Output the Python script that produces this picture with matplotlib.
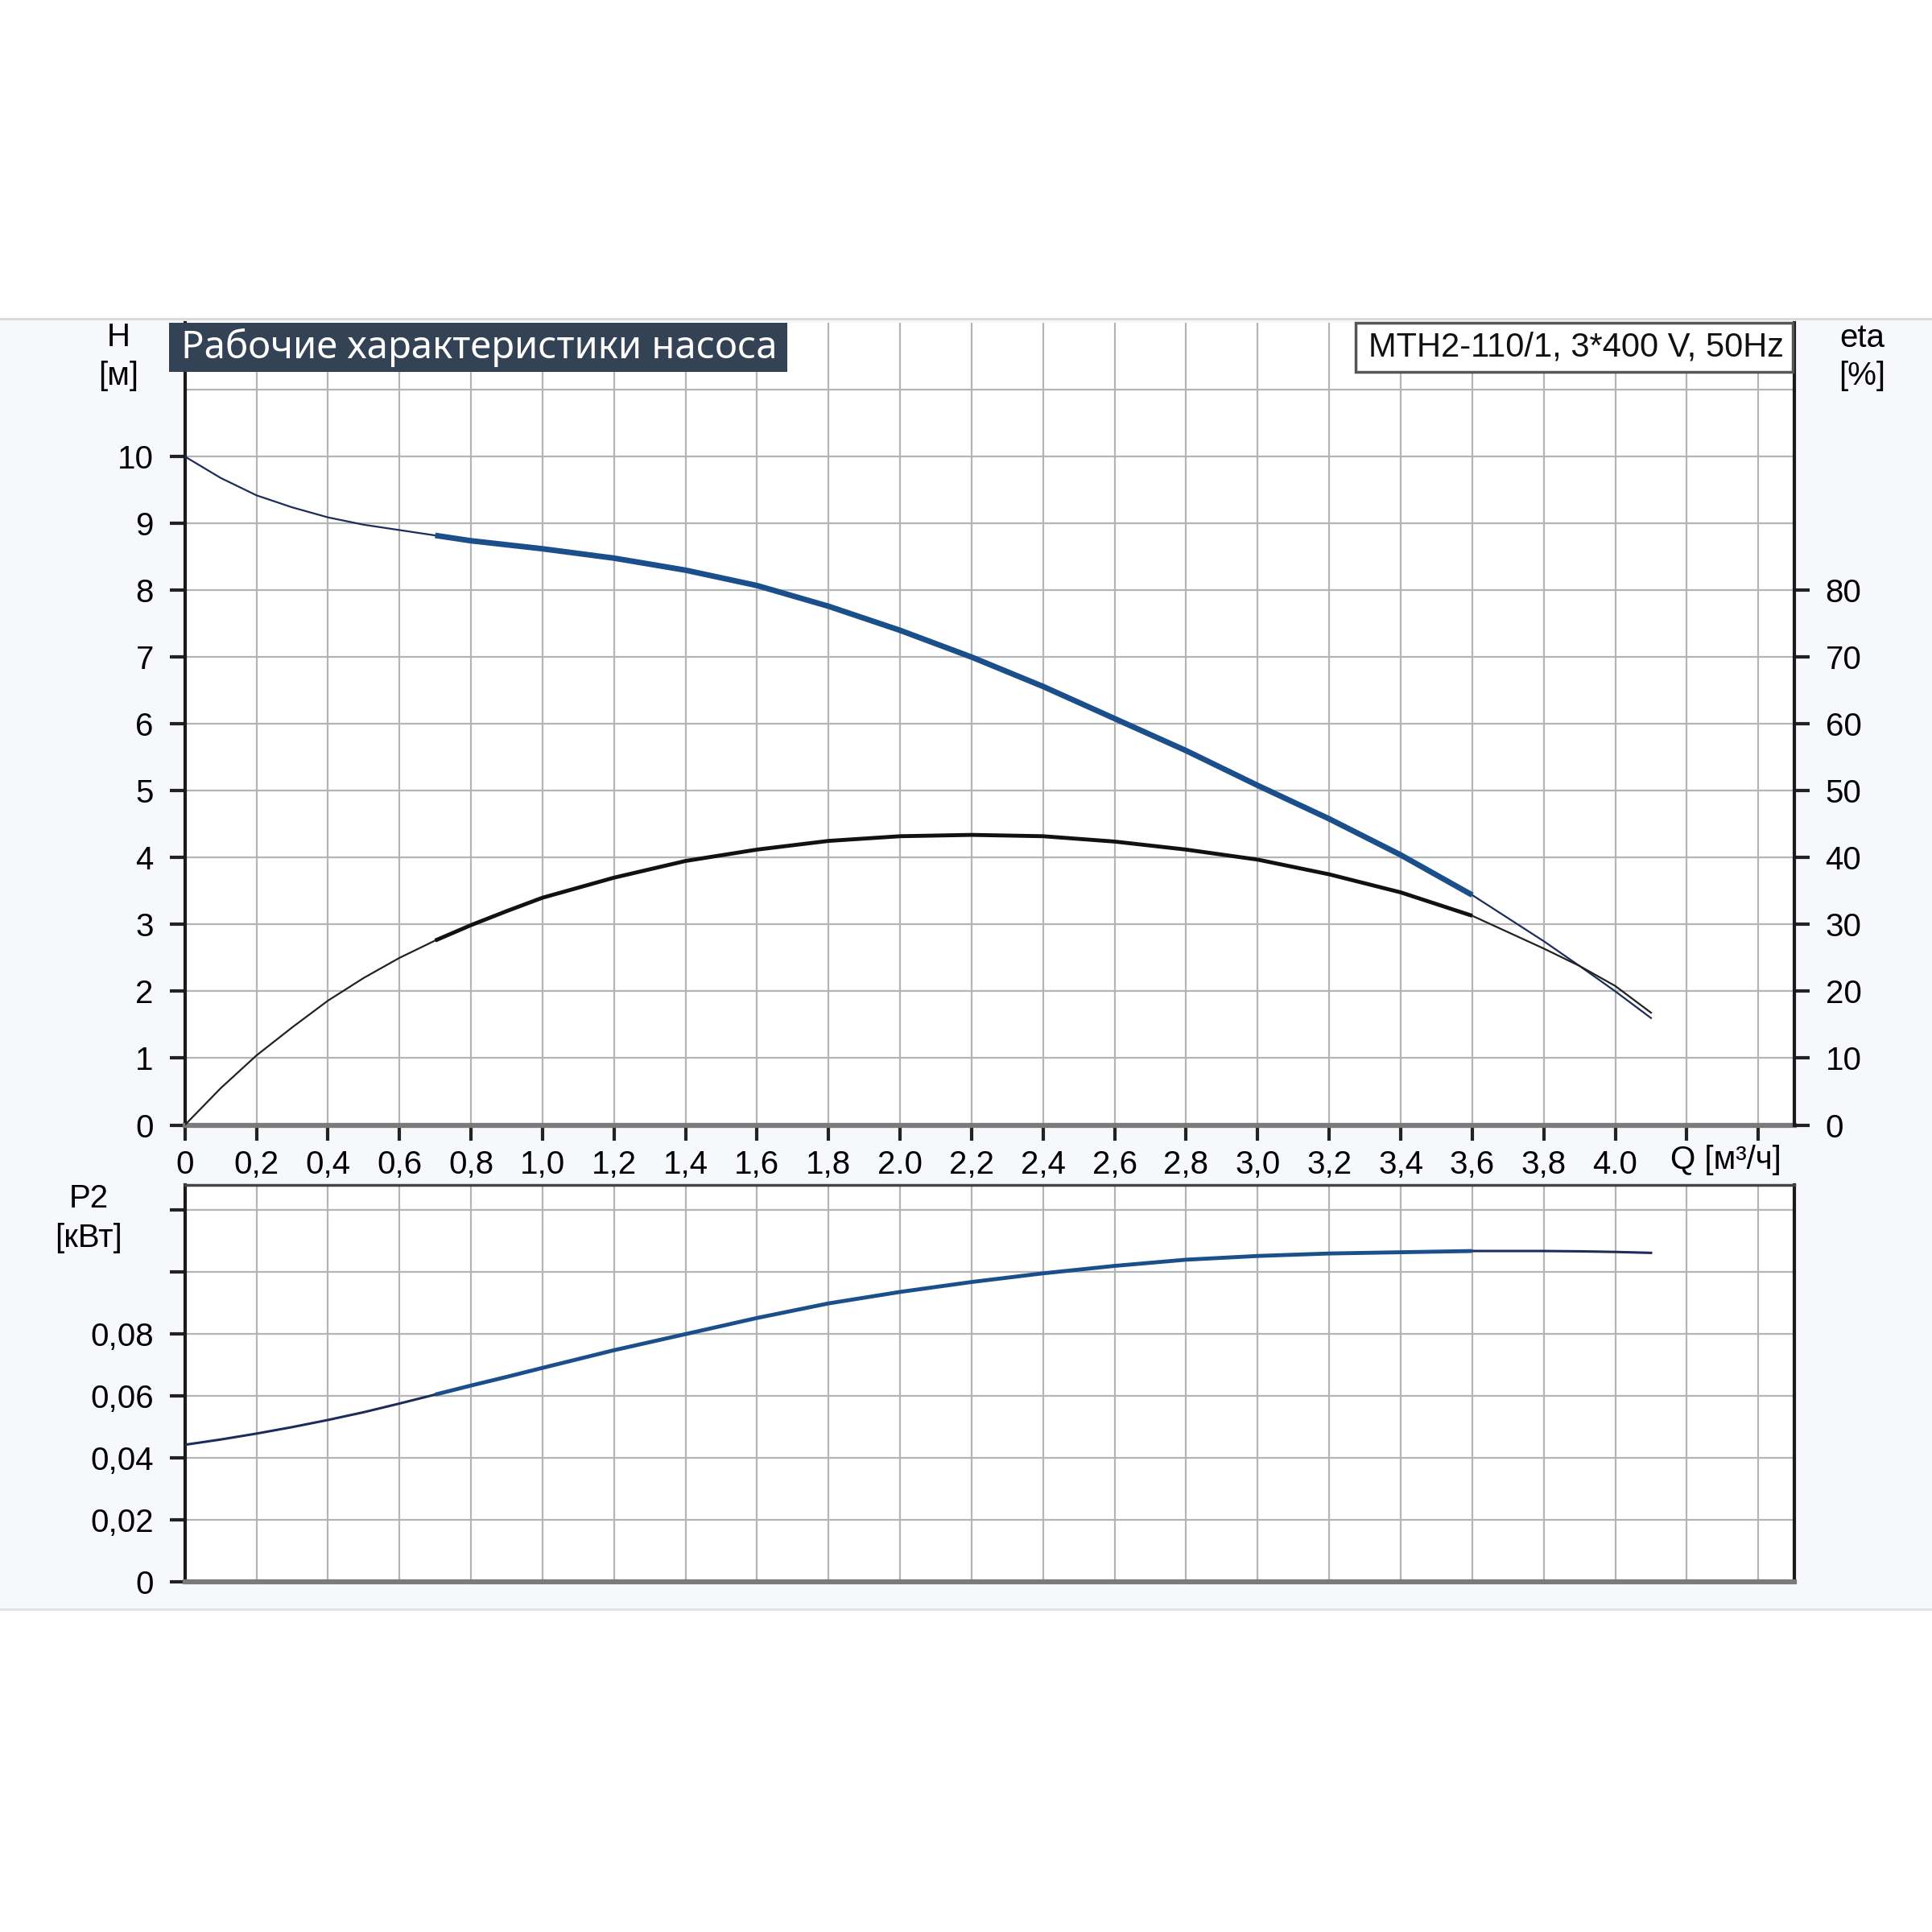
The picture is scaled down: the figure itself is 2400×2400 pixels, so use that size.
import matplotlib
matplotlib.use('Agg')
import matplotlib.pyplot as plt
from matplotlib.patches import Rectangle
import numpy as np

plt.rcParams['font.family'] = ['Liberation Sans', 'DejaVu Sans']

# расход, м3/ч
q = [0, 0.1, 0.2, 0.3, 0.4, 0.5, 0.6, 0.7, 0.8, 0.9, 1.0, 1.2, 1.4, 1.6, 1.8, 2.0,
     2.2, 2.4, 2.6, 2.8, 3.0, 3.2, 3.4, 3.6, 3.8, 3.9, 4.0, 4.1]
# напор, м
head = [10.0, 9.68, 9.42, 9.24, 9.09, 8.98, 8.9, 8.82, 8.74, 8.68, 8.62, 8.48, 8.3, 8.07,
        7.76, 7.4, 7.0, 6.56, 6.08, 5.6, 5.08, 4.58, 4.04, 3.44, 2.75, 2.38, 2.0, 1.6]
# кпд, %
eta = [0, 5.5, 10.4, 14.6, 18.6, 22.0, 25.0, 27.6, 29.9, 32.0, 34.0, 37.0, 39.5, 41.2,
       42.5, 43.2, 43.4, 43.2, 42.4, 41.2, 39.7, 37.5, 34.8, 31.3, 26.4, 23.8, 20.8, 16.8]
# мощность P2, кВт
p2 = [0.0443, 0.0460, 0.0479, 0.0500, 0.0523, 0.0548, 0.0576, 0.0605, 0.0634, 0.0662,
      0.0691, 0.0748, 0.0800, 0.0852, 0.0899, 0.0936, 0.0968, 0.0996, 0.1020, 0.1040,
      0.1052, 0.1060, 0.1064, 0.1068, 0.1068, 0.1067, 0.1065, 0.1062]

xticks = [0, 0.2, 0.4, 0.6, 0.8, 1.0, 1.2, 1.4, 1.6, 1.8, 2.0, 2.2, 2.4, 2.6, 2.8, 3.0,
          3.2, 3.4, 3.6, 3.8, 4.0, 4.2, 4.4]
xlabels = ['0', '0,2', '0,4', '0,6', '0,8', '1,0', '1,2', '1,4', '1,6', '1,8', '2.0', '2,2',
           '2,4', '2,6', '2,8', '3,0', '3,2', '3,4', '3,6', '3,8', '4.0', '', '']
hticks = [0, 1, 2, 3, 4, 5, 6, 7, 8, 9, 10]
hgrid_extra = [11]
etaticks = [0, 10, 20, 30, 40, 50, 60, 70, 80]
pticks = [0, 0.02, 0.04, 0.06, 0.08, 0.10, 0.12]
plabels = ['0', '0,02', '0,04', '0,06', '0,08', '', '']

q = np.array(q)
head = np.array(head)
eta = np.array(eta)
p2 = np.array(p2)
work = (q >= 0.7) & (q <= 3.6)

fs = 29

fig = plt.figure(figsize=(24, 24), dpi=100)
fig.patch.set_facecolor('white')

# светлая подложка страницы
fig.patches.append(Rectangle((0, 0.167), 1, 0.668, transform=fig.transFigure,
                             facecolor='#f7f8fb', edgecolor='none', zorder=-10))
fig.add_artist(plt.Line2D([0, 1], [0.835, 0.835], transform=fig.transFigure, color='#d8d8d8', lw=2))
fig.add_artist(plt.Line2D([0, 1], [0.167, 0.167], transform=fig.transFigure, color='#e2e2e2', lw=2))

gridc = '#b4b4b4'
navy = '#1c2d5c'
blue = '#1a4f8c'

ax = fig.add_axes([0.0957, 0.4177, 0.8329, 0.4152])
ax.set_facecolor('white')
ax.set_xlim(0, 4.5)
ax.set_ylim(0, 12)
ax.set_xticks(xticks)
ax.set_xticklabels(xlabels)
ax.set_yticks(hticks)
ax.set_yticks(hgrid_extra, minor=True)
ax.grid(True, which='both', color=gridc, lw=1.6)
ax.set_axisbelow(True)
ax.tick_params(axis='both', labelsize=fs, width=3, length=14, color='#222222')
ax.tick_params(axis='y', which='minor', length=0)
ax.tick_params(axis='x', pad=8)
ax.tick_params(axis='y', pad=14)
ax.spines['top'].set_visible(False)
ax.spines['left'].set_linewidth(3)
ax.spines['left'].set_color('#1a1a1a')
ax.spines['right'].set_visible(False)
ax.spines['bottom'].set_linewidth(4.5)
ax.spines['bottom'].set_color('#7a7a7a')

# напорная кривая
ax.plot(q, head, color=navy, lw=1.6, zorder=3)
ax.plot(q[work], head[work], color=blue, lw=5, solid_capstyle='butt', zorder=4)

ax2 = ax.twinx()
ax2.set_ylim(0, 120)
ax2.set_yticks(etaticks)
ax2.tick_params(axis='y', labelsize=fs, width=3, length=14, color='#222222', pad=14)
for s in ['top', 'left', 'bottom']:
    ax2.spines[s].set_visible(False)
ax2.spines['right'].set_linewidth(3)
ax2.spines['right'].set_color('#1a1a1a')
ax2.plot(q, eta, color='#222222', lw=1.6, zorder=3)
ax2.plot(q[work], eta[work], color='#111111', lw=3.5, solid_capstyle='butt', zorder=4)

ax.text(4.31, -0.3, 'Q [м³/ч]', fontsize=fs, ha='center', va='top')
fig.text(0.0615, 0.8255, 'H', fontsize=fs, ha='center', va='center')
fig.text(0.0615, 0.8055, '[м]', fontsize=fs, ha='center', va='center')
fig.text(0.9637, 0.8250, 'eta', fontsize=fs, ha='center', va='center')
fig.text(0.9637, 0.8055, '[%]', fontsize=fs, ha='center', va='center')

# заголовок
fig.patches.append(Rectangle((0.0874, 0.8074), 0.3201, 0.0255, transform=fig.transFigure,
                             facecolor='#334255', edgecolor='none', zorder=5))
fig.text(0.0938, 0.8200, 'Рабочие характеристики насоса', fontsize=34, color='white',
         family=['Noto Sans', 'DejaVu Sans'], ha='left', va='center', zorder=6)
fig.patches.append(Rectangle((0.7015, 0.8074), 0.2264, 0.0255, transform=fig.transFigure,
                             facecolor='white', edgecolor='#555555', lw=2.5, zorder=5))
fig.text(0.8157, 0.8202, 'MTH2-110/1, 3*400 V, 50Hz', fontsize=30, color='#111111',
         ha='center', va='center', zorder=6)

# мощность
bx = fig.add_axes([0.0957, 0.1811, 0.8329, 0.2054])
bx.set_facecolor('white')
bx.set_xlim(0, 4.5)
bx.set_ylim(0, 0.128)
bx.set_xticks(xticks)
bx.set_xticklabels([])
bx.set_yticks(pticks)
bx.set_yticklabels(plabels)
bx.grid(True, color=gridc, lw=1.6)
bx.set_axisbelow(True)
bx.tick_params(axis='y', labelsize=fs, width=3, length=14, color='#222222', pad=14)
bx.tick_params(axis='x', length=0)
bx.spines['top'].set_linewidth(2.5)
bx.spines['top'].set_color('#444444')
bx.spines['left'].set_linewidth(3)
bx.spines['left'].set_color('#1a1a1a')
bx.spines['right'].set_linewidth(3)
bx.spines['right'].set_color('#1a1a1a')
bx.spines['bottom'].set_linewidth(4.5)
bx.spines['bottom'].set_color('#7a7a7a')
bx.plot(q, p2, color=navy, lw=2.2, zorder=3)
bx.plot(q[work], p2[work], color=blue, lw=3.5, solid_capstyle='butt', zorder=4)

fig.text(0.0459, 0.3795, 'P2', fontsize=fs, ha='center', va='center')
fig.text(0.0459, 0.3590, '[кВт]', fontsize=fs, ha='center', va='center')

plt.savefig('out.png', dpi=100)
